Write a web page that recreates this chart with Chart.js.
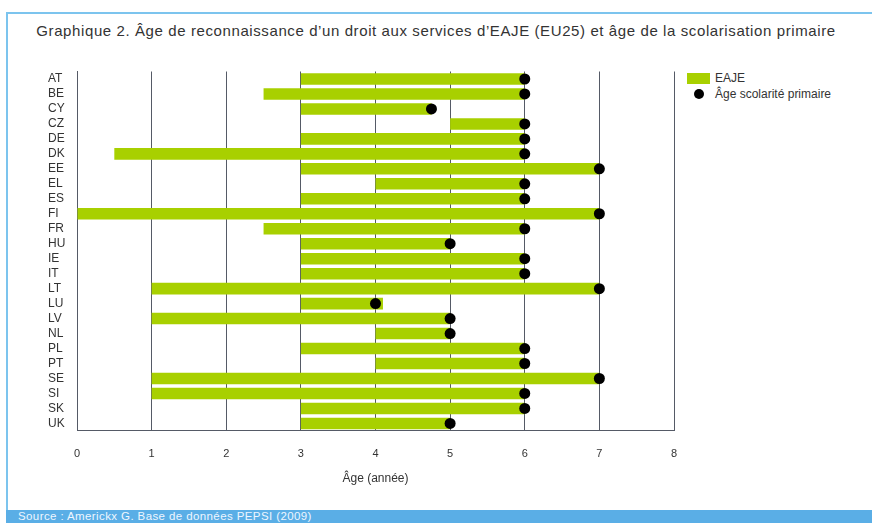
<!DOCTYPE html>
<html>
<head>
<meta charset="utf-8">
<script src="https://cdn.jsdelivr.net/npm/chart.js@4"></script>
<style>
  body { margin: 0; background: #fff; font-family: "Liberation Sans", Arial, sans-serif; }
  #wrap { position: relative; width: 872px; height: 523px; overflow: hidden; }
  #frame { position: absolute; left: 6px; top: 12px; width: 880px; height: 520px;
           border-left: 2px solid #7cc4ee; border-top: 2px solid #7cc4ee; }
  #title { position: absolute; left: 0; width: 872px; top: 22px; text-align: center;
           font-size: 15px; letter-spacing: 0.6px; color: #333; }
  #footer { position: absolute; left: 6px; top: 510px; width: 870px; height: 13px;
            background: #5aaee6; color: #eef6ff; font-size: 11.5px; letter-spacing: 0.4px;
            line-height: 13px; padding-left: 12px; }
  .leg { position: absolute; font-size: 12px; color: #333; }
  #legBox { position: absolute; left: 687px; top: 73px; width: 23px; height: 11px; background: #a8d000; }
  #legDot { position: absolute; left: 694px; top: 89px; width: 10px; height: 10px; border-radius: 50%; background: #000; }
  canvas { position: absolute; left: 0; top: 0; }
</style>
</head>
<body>
<div id="wrap">
  <div id="frame"></div>
  <div id="title">Graphique 2. Âge de reconnaissance d’un droit aux services d’EAJE (EU25) et âge de la scolarisation primaire</div>
  <div id="legBox"></div>
  <div class="leg" style="left:715px; top:71px;">EAJE</div>
  <div id="legDot"></div>
  <div class="leg" style="left:715px; top:87px;">Âge scolarité primaire</div>
  <canvas id="chart" width="872" height="523"></canvas>
  <div id="footer">Source : Americkx G. Base de données PEPSI (2009)</div>
</div>
<script>
// Countries (EU25)
const countries = ['AT', 'BE', 'CY', 'CZ', 'DE', 'DK', 'EE', 'EL', 'ES', 'FI', 'FR', 'HU',
                   'IE', 'IT', 'LT', 'LU', 'LV', 'NL', 'PL', 'PT', 'SE', 'SI', 'SK', 'UK'];

// Age at which a right to EAJE services begins / ends
const eajeStart = [3, 2.5, 3, 5, 3, 0.5, 3, 4, 3, 0, 2.5, 3,
                   3, 3, 1, 3, 1, 4, 3, 4, 1, 1, 3, 3];
const eajeEnd = [6, 6, 4.75, 6, 6, 6, 7, 6, 6, 7, 6, 5,
                 6, 6, 7, 4.1, 5, 5, 6, 6, 7, 6, 6, 5];

// Age of primary schooling
const primaryAge = [6, 6, 4.75, 6, 6, 6, 7, 6, 6, 7, 6, 5,
                    6, 6, 7, 4, 5, 5, 6, 6, 7, 6, 6, 5];

const xTicks = [0, 1, 2, 3, 4, 5, 6, 7, 8];

const ctx = document.getElementById('chart').getContext('2d');
new Chart(ctx, {
  type: 'bar',
  data: {
    labels: countries,
    datasets: [
      {
        type: 'line',
        label: 'Âge scolarité primaire',
        data: countries.map((c, i) => ({ x: primaryAge[i], y: c })),
        showLine: false,
        pointRadius: 5.5,
        pointBackgroundColor: '#000',
        pointBorderWidth: 0,
        order: 0
      },
      {
        label: 'EAJE',
        data: countries.map((c, i) => [eajeStart[i], eajeEnd[i]]),
        backgroundColor: '#a8d000',
        borderWidth: 0,
        barPercentage: 0.77,
        categoryPercentage: 1,
        order: 1
      }
    ]
  },
  options: {
    indexAxis: 'y',
    responsive: false,
    animation: false,
    layout: { padding: { left: 48, right: 198, top: 71.5, bottom: 37.5 } },
    plugins: {
      legend: { display: false },
      tooltip: { enabled: false }
    },
    scales: {
      x: {
        type: 'linear',
        min: 0,
        max: 8,
        afterBuildTicks: scale => { scale.ticks = xTicks.map(v => ({ value: v })); },
        grid: { color: '#555a66', lineWidth: 1, drawTicks: false },
        border: { color: '#555a66' },
        ticks: { color: '#333', font: { size: 11 }, padding: 16 },
        title: {
          display: true,
          text: 'Âge (année)',
          color: '#333',
          font: { size: 12 },
          padding: { top: -5, bottom: 0 }
        }
      },
      y: {
        type: 'category',
        offset: true,
        grid: { display: false },
        border: { color: '#555a66' },
        ticks: { color: '#333', font: { size: 12 }, crossAlign: 'far', autoSkip: false },
        afterFit: scale => { scale.width = 29; }
      }
    }
  }
});
</script>
</body>
</html>
